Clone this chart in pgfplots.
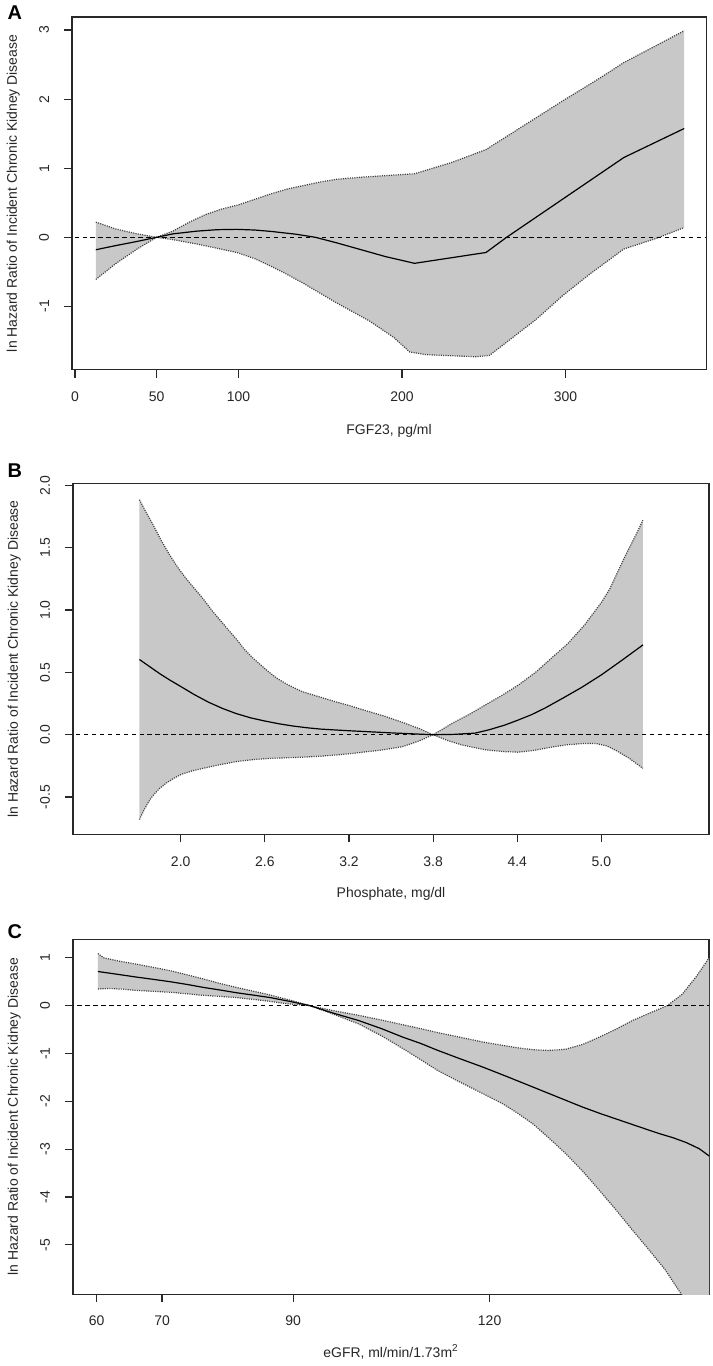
\documentclass[border=0pt]{standalone}
\usepackage{fontspec}
\setmainfont{Liberation Sans}
\usepackage{pgfplots}
\pgfplotsset{compat=1.18}
\usepackage{pgfplotstable}
\definecolor{band}{RGB}{200,200,200}
\definecolor{frame}{RGB}{40,40,40}

% ---------- Panel A: FGF23 ----------
\pgfplotstableread{
x y
12.8 0.22
25 0.12
38 0.05
50 0.00
60 0.09
70 0.22
80 0.33
90 0.41
100 0.47
110 0.55
120 0.63
130 0.70
140 0.75
150 0.80
160 0.84
175 0.87
207.7 0.92
230 1.08
251.4 1.27
280 1.70
300 2.00
320 2.29
335.7 2.53
355 2.77
372.6 2.99
}\Aup
\pgfplotstableread{
x y
12.8 -0.18
25 -0.12
38 -0.06
50 0.00
60 0.05
75 0.09
87 0.11
99 0.115
110 0.105
120 0.085
135 0.045
147 0.00
160 -0.08
175 -0.18
190 -0.28
207.7 -0.377
251.4 -0.22
264 0.00
300 0.58
335.7 1.155
372.6 1.575
}\Aest
\pgfplotstableread{
x y
12.8 -0.61
25 -0.38
38 -0.17
50 0.00
60 -0.035
75 -0.10
99 -0.22
110 -0.31
120 -0.42
130 -0.54
140 -0.67
160 -0.95
180 -1.21
195 -1.45
204.7 -1.66
215 -1.70
245.3 -1.73
253.5 -1.71
282 -1.19
298 -0.85
315 -0.53
335.7 -0.17
355 -0.02
372.6 0.14
}\Alo
% band outline: upper bound left to right, then lower bound right to left
\pgfplotstableread{
x y
12.8 0.22
25 0.12
38 0.05
50 0.00
60 0.09
70 0.22
80 0.33
90 0.41
100 0.47
110 0.55
120 0.63
130 0.70
140 0.75
150 0.80
160 0.84
175 0.87
207.7 0.92
230 1.08
251.4 1.27
280 1.70
300 2.00
320 2.29
335.7 2.53
355 2.77
372.6 2.99
372.6 0.14
355 -0.02
335.7 -0.17
315 -0.53
298 -0.85
282 -1.19
253.5 -1.71
245.3 -1.73
215 -1.70
204.7 -1.66
195 -1.45
180 -1.21
160 -0.95
140 -0.67
130 -0.54
120 -0.42
110 -0.31
99 -0.22
75 -0.10
60 -0.035
50 0.00
38 -0.17
25 -0.38
12.8 -0.61
}\Aband

% ---------- Panel B: Phosphate ----------
\pgfplotstableread{
x y
1.706 1.885
1.75 1.79
1.80 1.69
1.86 1.56
1.922 1.44
1.98 1.34
2.04 1.25
2.10 1.17
2.16 1.09
2.22 1.00
2.28 0.92
2.34 0.84
2.395 0.77
2.45 0.69
2.51 0.62
2.57 0.56
2.632 0.50
2.69 0.45
2.75 0.41
2.81 0.375
2.868 0.345
3.0 0.30
3.105 0.264
3.2 0.235
3.3 0.20
3.45 0.15
3.58 0.10
3.7 0.05
3.8 0.00
3.95 0.10
4.06 0.165
4.17 0.237
4.29 0.315
4.41 0.40
4.53 0.50
4.64 0.61
4.76 0.73
4.88 0.88
5.00 1.06
5.06 1.17
5.11 1.29
5.16 1.41
5.20 1.50
5.25 1.61
5.296 1.72
}\Bup
\pgfplotstableread{
x y
1.706 0.603
1.78 0.545
1.85 0.49
1.92 0.44
2.0 0.387
2.1 0.32
2.2 0.26
2.3 0.21
2.395 0.17
2.5 0.135
2.6 0.11
2.7 0.088
2.8 0.07
2.9 0.056
3.0 0.045
3.2 0.032
3.5 0.015
3.8 0.0
3.95 0.003
4.1 0.013
4.2 0.04
4.31 0.077
4.4 0.115
4.5 0.16
4.6 0.215
4.72 0.29
4.86 0.38
5.0 0.48
5.15 0.60
5.296 0.72
}\Best
\pgfplotstableread{
x y
1.706 -0.68
1.74 -0.60
1.77 -0.54
1.80 -0.49
1.85 -0.43
1.90 -0.385
1.95 -0.35
2.0 -0.32
2.08 -0.29
2.16 -0.27
2.28 -0.24
2.395 -0.216
2.51 -0.20
2.63 -0.19
2.75 -0.185
2.87 -0.18
3.0 -0.172
3.1 -0.163
3.2 -0.153
3.3 -0.14
3.45 -0.12
3.58 -0.096
3.7 -0.05
3.8 0.0
3.9 -0.045
4.0 -0.08
4.08 -0.10
4.17 -0.12
4.3 -0.135
4.41 -0.14
4.52 -0.125
4.64 -0.10
4.76 -0.08
4.88 -0.07
4.96 -0.07
5.04 -0.09
5.11 -0.13
5.2 -0.19
5.296 -0.27
}\Blo
\pgfplotstableread{
x y
1.706 1.885
1.75 1.79
1.80 1.69
1.86 1.56
1.922 1.44
1.98 1.34
2.04 1.25
2.10 1.17
2.16 1.09
2.22 1.00
2.28 0.92
2.34 0.84
2.395 0.77
2.45 0.69
2.51 0.62
2.57 0.56
2.632 0.50
2.69 0.45
2.75 0.41
2.81 0.375
2.868 0.345
3.0 0.30
3.105 0.264
3.2 0.235
3.3 0.20
3.45 0.15
3.58 0.10
3.7 0.05
3.8 0.00
3.95 0.10
4.06 0.165
4.17 0.237
4.29 0.315
4.41 0.40
4.53 0.50
4.64 0.61
4.76 0.73
4.88 0.88
5.00 1.06
5.06 1.17
5.11 1.29
5.16 1.41
5.20 1.50
5.25 1.61
5.296 1.72
5.296 -0.27
5.2 -0.19
5.11 -0.13
5.04 -0.09
4.96 -0.07
4.88 -0.07
4.76 -0.08
4.64 -0.10
4.52 -0.125
4.41 -0.14
4.3 -0.135
4.17 -0.12
4.08 -0.10
4.0 -0.08
3.9 -0.045
3.8 0.0
3.7 -0.05
3.58 -0.096
3.45 -0.12
3.3 -0.14
3.2 -0.153
3.1 -0.163
3.0 -0.172
2.87 -0.18
2.75 -0.185
2.63 -0.19
2.51 -0.20
2.395 -0.216
2.28 -0.24
2.16 -0.27
2.08 -0.29
2.0 -0.32
1.95 -0.35
1.90 -0.385
1.85 -0.43
1.80 -0.49
1.77 -0.54
1.74 -0.60
1.706 -0.68
}\Bband

% ---------- Panel C: eGFR ----------
\pgfplotstableread{
x y
60.2 1.09
61.1 1.00
63.5 0.93
66 0.87
68.7 0.80
71.3 0.73
73.7 0.65
76 0.57
78.7 0.47
81.4 0.38
83.7 0.31
86 0.24
88 0.17
90 0.10
92.6 0.00
96 -0.10
100 -0.20
103.5 -0.30
106.8 -0.40
109.5 -0.48
112 -0.56
115.5 -0.66
119 -0.76
122 -0.83
124.3 -0.88
126.6 -0.92
129 -0.935
131.6 -0.91
134.2 -0.81
136.7 -0.66
139.3 -0.49
141.8 -0.31
144.5 -0.15
147.1 0.00
149.4 0.24
151.5 0.60
153.7 1.04
}\Cup
\pgfplotstableread{
x y
60.2 0.715
63 0.66
66 0.60
68.7 0.55
71.3 0.50
74 0.44
76.4 0.38
79 0.325
81.4 0.27
84 0.22
86.5 0.17
89.5 0.09
92.6 0.00
96 -0.15
100 -0.31
103.5 -0.48
106.8 -0.66
109.5 -0.79
112 -0.93
115.5 -1.11
119 -1.285
122.8 -1.49
126.6 -1.70
130.4 -1.91
134.2 -2.12
137 -2.26
140 -2.40
143 -2.54
145.8 -2.67
148 -2.76
150 -2.86
152 -2.99
153.7 -3.16
}\Cest
\pgfplotstableread{
x y
60.2 0.35
62 0.36
64 0.345
66 0.32
68.7 0.30
71.3 0.28
73.7 0.25
76 0.22
78.7 0.195
81.4 0.17
83.7 0.135
86 0.10
88 0.06
90 0.03
92.6 0.00
96 -0.17
100 -0.38
103.5 -0.63
106.8 -0.90
109.5 -1.13
112 -1.35
115.5 -1.60
119 -1.84
122 -2.05
124.3 -2.25
126.6 -2.47
129 -2.76
131.6 -3.09
134.2 -3.46
136.7 -3.85
139.3 -4.27
141.8 -4.69
144.3 -5.10
146.8 -5.52
149.3 -6.04
152 -6.6
153.7 -7.0
}\Clo
\pgfplotstableread{
x y
60.2 1.09
61.1 1.00
63.5 0.93
66 0.87
68.7 0.80
71.3 0.73
73.7 0.65
76 0.57
78.7 0.47
81.4 0.38
83.7 0.31
86 0.24
88 0.17
90 0.10
92.6 0.00
96 -0.10
100 -0.20
103.5 -0.30
106.8 -0.40
109.5 -0.48
112 -0.56
115.5 -0.66
119 -0.76
122 -0.83
124.3 -0.88
126.6 -0.92
129 -0.935
131.6 -0.91
134.2 -0.81
136.7 -0.66
139.3 -0.49
141.8 -0.31
144.5 -0.15
147.1 0.00
149.4 0.24
151.5 0.60
153.7 1.04
153.7 -7.0
152 -6.6
149.3 -6.04
146.8 -5.52
144.3 -5.10
141.8 -4.69
139.3 -4.27
136.7 -3.85
134.2 -3.46
131.6 -3.09
129 -2.76
126.6 -2.47
124.3 -2.25
122 -2.05
119 -1.84
115.5 -1.60
112 -1.35
109.5 -1.13
106.8 -0.90
103.5 -0.63
100 -0.38
96 -0.17
92.6 0.00
90 0.03
88 0.06
86 0.10
83.7 0.135
81.4 0.17
78.7 0.195
76 0.22
73.7 0.25
71.3 0.28
68.7 0.30
66 0.32
64 0.345
62 0.36
60.2 0.35
}\Cband

\pgfplotsset{
  rstyle/.style={
    scale only axis,
    axis line style={line width=0.6pt, frame},
    tick align=outside,
    xtick pos=left, ytick pos=left,
    major tick length=4pt,
    tick style={line width=0.6pt, frame},
    tick label style={font=\fontsize{7}{8}\selectfont, text=black!85},
    label style={font=\fontsize{7}{8}\selectfont, text=black!85},
    /pgf/number format/assume math mode=true,
    xticklabel style={yshift=-3.5pt},
    yticklabel style={xshift=-4pt, rotate=90, anchor=south},
    xlabel style={anchor=center},
    ylabel style={anchor=center},
  },
  bandedge/.style={line width=0.6pt, black!75, dash pattern=on 0.55pt off 0.6pt},
  est/.style={line width=0.6pt, black},
  refl/.style={line width=0.55pt, black, dash pattern=on 2.2pt off 1.8pt},
}

\begin{document}
\begin{tikzpicture}
\path (0,0) rectangle (355pt,-683pt);

% Panel A
\begin{axis}[rstyle, at={(34pt,-185.5pt)}, anchor=south west,
  width=318pt, height=177pt,
  xmin=-1.8, xmax=386, ymin=-1.92, ymax=3.19,
  xtick={0,50,100,200,300}, xticklabels={0,50,100,200,300},
  ytick={-1,0,1,2,3}, yticklabels={-1,0,1,2,3},
  xlabel={FGF23, pg/ml},
  ylabel={ln Hazard Ratio of Incident Chronic Kidney Disease},
  xlabel style={at={(axis description cs:0.5,-0.1723)}},
  ylabel style={at={(axis description cs:-0.0928,0.5)}},
]
\addplot[fill=band, draw=none] table {\Aband} -- cycle;
\addplot[bandedge] table {\Aup};
\addplot[bandedge] table {\Alo};
\addplot[refl] coordinates {(-10,0) (400,0)};
\addplot[est] table {\Aest};
\end{axis}

% Panel B
\begin{axis}[rstyle, at={(34.5pt,-418.5pt)}, anchor=south west,
  width=319pt, height=176pt,
  xmin=1.232, xmax=5.768, ymin=-0.80, ymax=2.014,
  xtick={2.0,2.6,3.2,3.8,4.4,5.0}, xticklabels={2.0,2.6,3.2,3.8,4.4,5.0},
  ytick={-0.5,0,0.5,1,1.5,2}, yticklabels={-0.5,0.0,0.5,1.0,1.5,2.0},
  xlabel={Phosphate, mg/dl},
  ylabel={ln Hazard Ratio of Incident Chronic Kidney Disease},
  xlabel style={at={(axis description cs:0.5,-0.1705)}},
  ylabel style={at={(axis description cs:-0.0925,0.5)}},
]
\addplot[fill=band, draw=none] table {\Bband} -- cycle;
\addplot[bandedge] table {\Bup};
\addplot[bandedge] table {\Blo};
\addplot[refl] coordinates {(0,0) (7,0)};
\addplot[est] table {\Best};
\end{axis}

% Panel C
\begin{axis}[rstyle, at={(34.5pt,-649pt)}, anchor=south west,
  width=319pt, height=178pt,
  xmin=56.4, xmax=153.5, ymin=-6.03, ymax=1.39,
  xtick={60,70,90,120}, xticklabels={60,70,90,120},
  ytick={-5,-4,-3,-2,-1,0,1}, yticklabels={-5,-4,-3,-2,-1,0,1},
  xlabel={eGFR, ml/min/1.73m\textsuperscript{2}},
  ylabel={ln Hazard Ratio of Incident Chronic Kidney Disease},
  xlabel style={at={(axis description cs:0.5,-0.163)}},
  ylabel style={at={(axis description cs:-0.0925,0.5)}},
]
\addplot[fill=band, draw=none] table {\Cband} -- cycle;
\addplot[bandedge] table {\Cup};
\addplot[bandedge] table {\Clo};
\addplot[refl] coordinates {(40,0) (170,0)};
\addplot[est] table {\Cest};
\end{axis}

\node[anchor=north west, inner sep=0pt, font=\bfseries\fontsize{10}{12}\selectfont] at (1.5pt,-2.5pt) {A};
\node[anchor=north west, inner sep=0pt, font=\bfseries\fontsize{10}{12}\selectfont] at (1.5pt,-232.5pt) {B};
\node[anchor=north west, inner sep=0pt, font=\bfseries\fontsize{10}{12}\selectfont] at (1.5pt,-463.5pt) {C};
\end{tikzpicture}
\end{document}
